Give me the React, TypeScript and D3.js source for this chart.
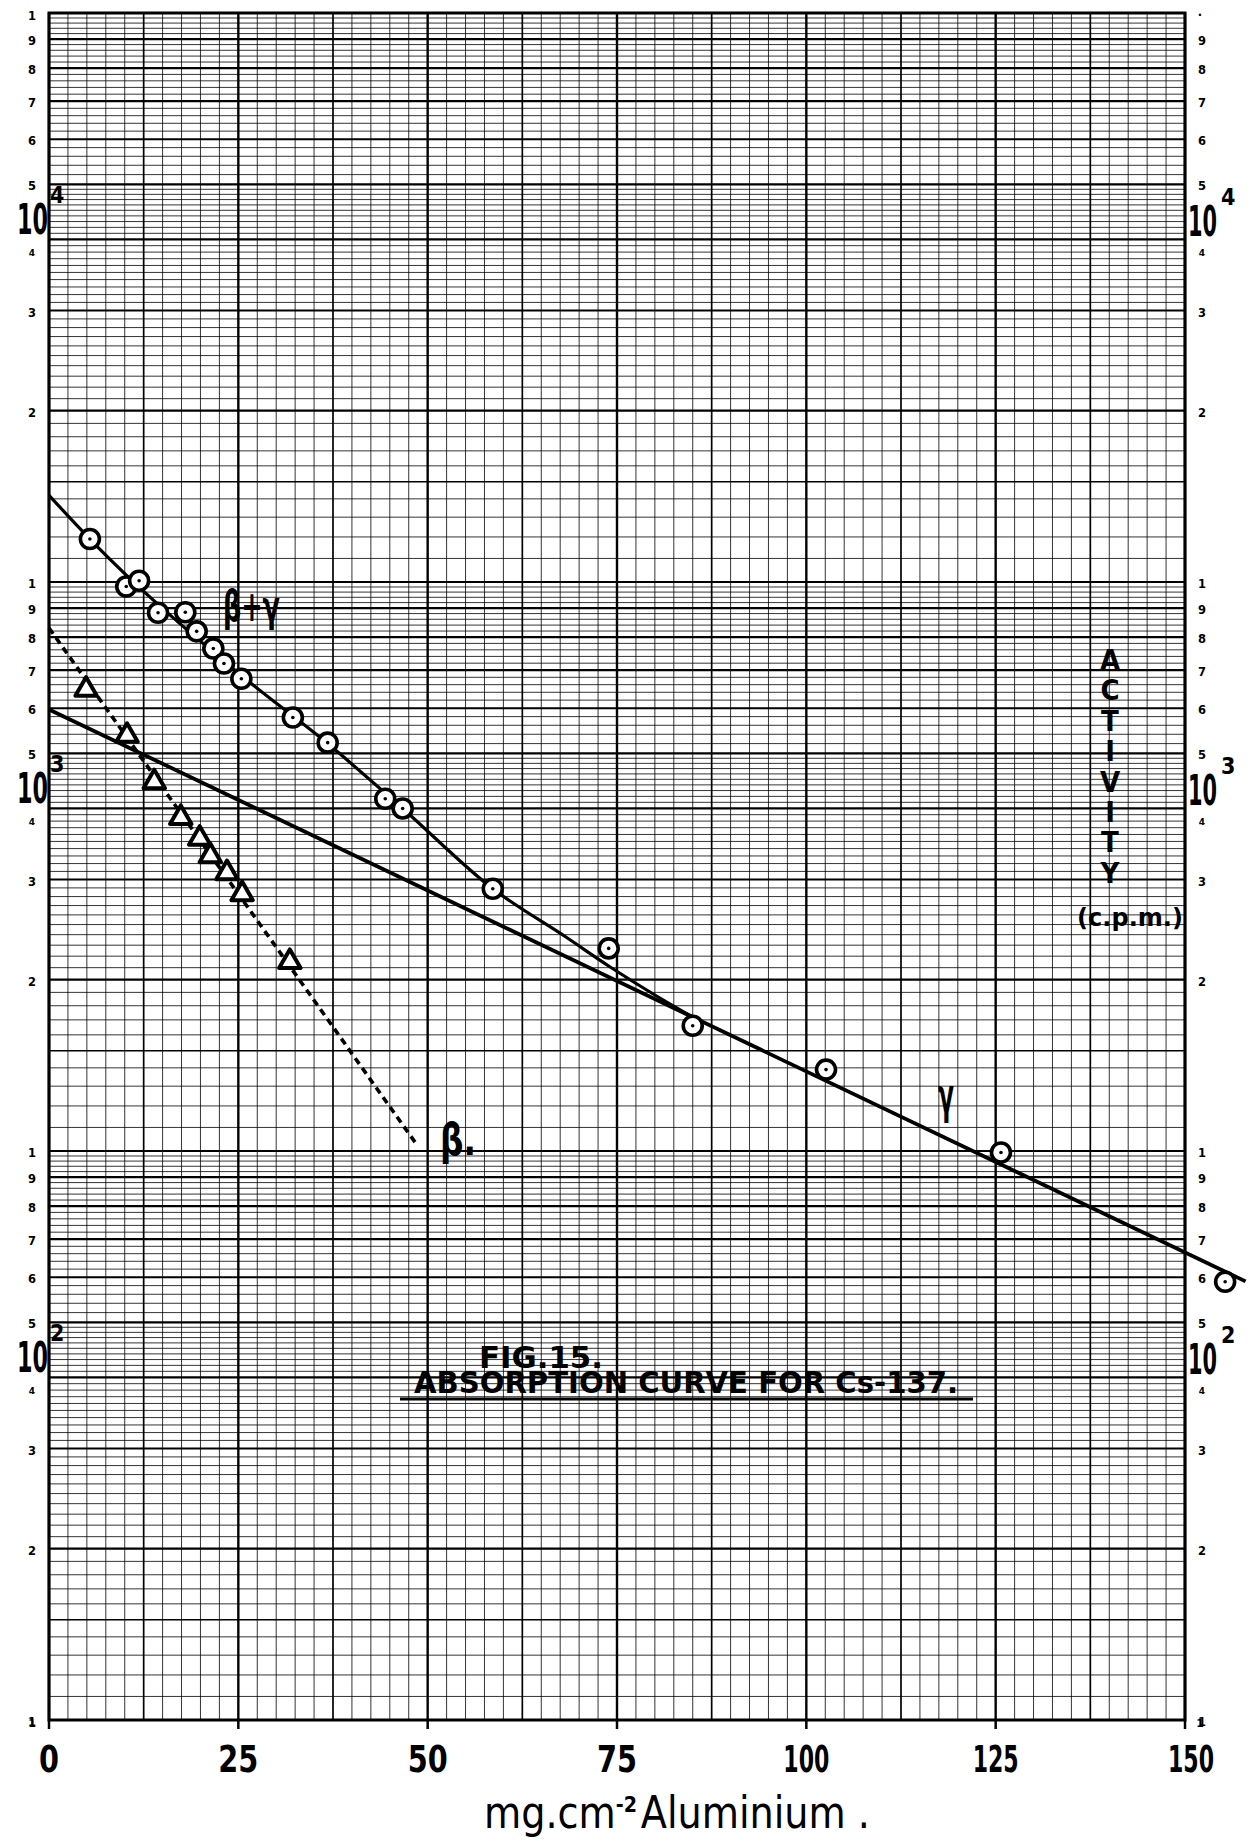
import React from "react";
import * as d3 from "d3";

const W = 1249;
const H = 1843;

// measured points, thickness in mg/cm2, activity in c.p.m.
const betaGammaX = [5.4, 10.2, 11.9, 14.4, 18.0, 19.5, 21.7, 23.1, 25.4, 32.2, 36.8, 44.4, 46.7, 58.6, 73.9, 85.0, 102.6, 125.7, 155.3];
const betaGammaCpm = [11900, 9820, 10050, 8830, 8850, 8190, 7640, 7190, 6760, 5780, 5220, 4160, 4000, 2890, 2270, 1660, 1390, 994, 589];
const betaX = [4.9, 10.3, 13.9, 17.4, 19.9, 21.3, 23.5, 25.5, 31.8];
const betaCpm = [6470, 5370, 4450, 3850, 3540, 3300, 3080, 2830, 2150];

// hand drawn curves
const betaGammaCurveX = [0, 5.4, 25.4, 36.8, 46.7, 58.6, 68.4, 74, 80, 85];
const betaGammaCurveCpm = [14200, 11900, 6850, 5200, 4000, 2890, 2370, 2110, 1880, 1720];
const gammaLineX = [0, 158];
const gammaLineCpm = [5970, 590];
const betaLineX = [0, 48.7];
const betaLineCpm = [8300, 1020];

const xTicks = [0, 25, 50, 75, 100, 125, 150];
const decades = [100, 1000, 10000];
const decadeExp = ["2", "3", "4"];
const paperDigits = [1, 2, 3, 4, 5, 6, 7, 8, 9];

const hand = "'DejaVu Sans Condensed','Liberation Sans Narrow','Roboto Condensed','DejaVu Sans',sans-serif";
const printed = "'DejaVu Sans',sans-serif";

const App = () => {
  const x = d3.scaleLinear().domain([0, 150]).range([49, 1185]);
  const y = d3.scaleLog().domain([100, 100000]).range([1720, 13]);
  const [x0, x1] = x.range();
  const [yb, yt] = y.range();

  // log paper rulings
  const hLines: { v: number; w: number }[] = [];
  decades.forEach((d) => {
    for (let k = 10; k < 50; k++) hLines.push({ v: (d * k) / 10, w: k % 10 === 0 ? 2.2 : k === 15 ? 1.6 : 0.8 });
    for (let k = 25; k < 50; k++) hLines.push({ v: (d * k) / 5, w: k % 5 === 0 ? 2.2 : 0.8 });
  });
  const vLines = d3.range(0, 61).map((i) => ({ v: i * 2.5, w: i % 10 === 0 ? 2.4 : i % 5 === 0 ? 1.7 : 0.8 }));

  const lineGen = d3
    .line<[number, number]>()
    .x((d) => x(d[0]))
    .y((d) => y(d[1]));
  const smooth = d3
    .line<[number, number]>()
    .x((d) => x(d[0]))
    .y((d) => y(d[1]))
    .curve(d3.curveMonotoneX);

  const bgCurve = betaGammaCurveX.map((v, i) => [v, betaGammaCurveCpm[i]] as [number, number]);
  const gLine = gammaLineX.map((v, i) => [v, gammaLineCpm[i]] as [number, number]);
  const bLine = betaLineX.map((v, i) => [v, betaLineCpm[i]] as [number, number]);
  const tri = d3.symbol().type(d3.symbolTriangle).size(200)();

  return (
    <svg width={W} height={H} style={{ position: "absolute", left: 0, top: 0, display: "block", background: "#fff" }}>
      <rect width={W} height={H} fill="#fff" />
      <g stroke="#000">
        {hLines.map((l, i) => (
          <line key={"h" + i} x1={x0} x2={x1} y1={y(l.v)} y2={y(l.v)} strokeWidth={l.w} />
        ))}
        {vLines.map((l, i) => (
          <line key={"v" + i} x1={x(l.v)} x2={x(l.v)} y1={yt} y2={yb} strokeWidth={l.w} />
        ))}
        <rect x={x0} y={yt} width={x1 - x0} height={yb - yt} fill="none" strokeWidth={3} />
        {xTicks.map((t) => (
          <line key={"t" + t} x1={x(t)} x2={x(t)} y1={yb} y2={yb + 9} strokeWidth={2.5} />
        ))}
      </g>

      {/* printed paper digits (the 4 sits just under the hand written 10) */}
      <g fontFamily={printed} fontWeight="bold" fontSize={11.5} textAnchor="middle" fill="#000">
        {decades.map((d) =>
          paperDigits.map((k) => (
            <g key={d + "-" + k}>
              <text x={32} y={y(d * k) + (k === 4 ? 17 : 6)} fontSize={k === 4 ? 9 : 11.5}>{k}</text>
              <text x={1202} y={y(d * k) + (k === 4 ? 17 : 6)} fontSize={k === 4 ? 9 : 11.5}>{k}</text>
            </g>
          ))
        )}
        <text x={32} y={yt + 7}>1</text>
        <text x={1200} y={yt + 6}>·</text>
      </g>

      {/* decade labels */}
      <g fontFamily={hand} fill="#000" fontWeight="bold">
        {decades.map((d, i) => (
          <g key={"e" + d}>
            <text x={17} y={y(d * 4) - 5} fontSize={42} textLength={31} lengthAdjust="spacingAndGlyphs">10</text>
            <text x={50} y={y(d * 4) - 36} fontSize={23}>{decadeExp[i]}</text>
            <text x={1188} y={y(d * 4) - 3} fontSize={42} textLength={29} lengthAdjust="spacingAndGlyphs">10</text>
            <text x={1221} y={y(d * 4) - 34} fontSize={23}>{decadeExp[i]}</text>
          </g>
        ))}
      </g>

      {/* curves */}
      <path d={lineGen(gLine) || ""} fill="none" stroke="#000" strokeWidth={3.8} />
      <path d={smooth(bgCurve) || ""} fill="none" stroke="#000" strokeWidth={3.2} />
      <path d={lineGen(bLine) || ""} fill="none" stroke="#000" strokeWidth={3.6} strokeDasharray="7,5" />

      {/* points */}
      {betaGammaX.map((v, i) => (
        <g key={"c" + i} transform={`translate(${x(v)},${y(betaGammaCpm[i])})`}>
          <circle r={9.5} fill="#fff" stroke="#000" strokeWidth={3.6} />
          <circle r={1.8} fill="#000" />
        </g>
      ))}
      {betaX.map((v, i) => (
        <path
          key={"b" + i}
          d={tri || ""}
          transform={`translate(${x(v)},${y(betaCpm[i])})`}
          fill="#fff"
          stroke="#000"
          strokeWidth={4}
          strokeLinejoin="round"
        />
      ))}

      {/* curve labels */}
      <g fontFamily={printed} fill="#000" fontWeight="bold">
        <text x={223} y={621} fontSize={43} textLength={57} lengthAdjust="spacingAndGlyphs">β+γ</text>
        <text x={440} y={1155} fontSize={44} textLength={36} lengthAdjust="spacingAndGlyphs">β.</text>
        <text x={938} y={1113} fontSize={50} textLength={16} lengthAdjust="spacingAndGlyphs">γ</text>
      </g>

      {/* y title */}
      <g fontFamily={hand} fontWeight="bold" fill="#000" textAnchor="middle">
        {"ACTIVITY".split("").map((c, i) => (
          <text key={"a" + i} x={1110} y={660 + i * 30.4} dominantBaseline="central" fontSize={29}>{c}</text>
        ))}
        <text x={1130} y={917} dominantBaseline="central" fontSize={25} textLength={106} lengthAdjust="spacingAndGlyphs">(c.p.m.)</text>
      </g>

      {/* x tick labels */}
      <g fontFamily={hand} fontSize={37} fontWeight="bold" fill="#000" textAnchor="middle">
        {xTicks.map((t) => {
          const s = String(t);
          return (
            <text key={"l" + t} x={x(t) + (t === 150 ? 6 : 0)} y={1772} textLength={s.length === 3 ? 46 : s.length * 20} lengthAdjust="spacingAndGlyphs">
              {s}
            </text>
          );
        })}
        <text x={32} y={1727} fontSize={11} fontFamily={printed}>1</text>
        <text x={1200} y={1727} fontSize={11} fontFamily={printed}>1</text>
      </g>

      {/* x title */}
      <text x={484} y={1828} fontFamily={hand} fontSize={44} fill="#000" textLength={386} lengthAdjust="spacingAndGlyphs">
        <tspan>mg.cm</tspan>
        <tspan dy={-16} fontSize={22} fontWeight="bold">-2</tspan>
        <tspan dy={16} dx={4}>Aluminium .</tspan>
      </text>

      {/* figure title */}
      <g fontFamily={hand} fontWeight="bold" fill="#000">
        <text x={479} y={1368} fontSize={31} textLength={124} lengthAdjust="spacingAndGlyphs">FIG.15.</text>
        <text x={414} y={1393} fontSize={30} textLength={544} lengthAdjust="spacingAndGlyphs">ABSORPTION CURVE FOR Cs-137.</text>
        <line x1={400} x2={973} y1={1399} y2={1399} stroke="#000" strokeWidth={3} />
      </g>
    </svg>
  );
};

export default App;
